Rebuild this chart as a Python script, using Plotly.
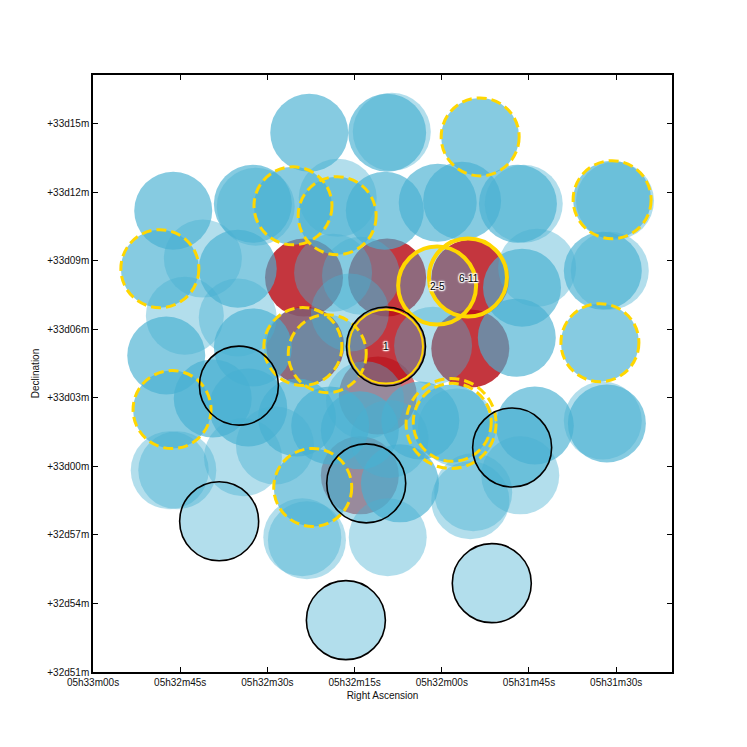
import plotly.graph_objects as go

# RA: seconds of time after 05h30m00s ; Dec: arcmin relative to +33d00m
blue_ra = [142.8, 129.4, 128.6, 113.4, 166.2, 152.5, 152.0, 145.6, 137.9, 138.0,
           129.8, 120.7, 116.5, 106.9, 105.9, 90.7, 90.2, 168.5, 161.1, 155.1,
           138.7, 133.9, 120.8, 106.2, 103.6, 92.3, 91.1, 167.4, 164.2, 155.1,
           152.5, 121.5, 107.1, 92.8, 166.4, 154.9, 159.4, 153.3, 144.9, 166.8,
           165.5, 154.2, 158.3, 144.0, 143.2, 142.2, 133.0, 136.5, 129.3, 111.4,
           107.9, 118.4, 117.4, 104.0, 106.5, 115.1, 114.6, 127.2, 92.3, 91.6,
           139.2, 123.7, 135.8, 134.1, 148.7, 129.0, 143.9, 139.7, 133.2]
blue_dec = [14.61, 14.61, 14.65, 14.43, 11.20, 11.50, 11.37, 11.41, 11.76, 10.98,
            11.20, 11.55, 11.63, 11.50, 11.50, 11.68, 11.63, 8.66, 9.10, 8.66,
            8.48, 8.35, 7.92, 7.83, 8.70, 8.57, 8.57, 4.86, 6.60, 6.52,
            5.21, 5.29, 5.64, 5.42, 2.49, 3.54, 2.98, 2.58, 2.14, -0.17,
            -0.17, 0.40, -2.40, -3.10, -3.23, -0.92, -0.74, -6.73, -3.10, -5.11,
            0.83, 1.88, 1.71, 1.79, -0.39, -1.48, -1.13, -0.74, 2.01, 1.88,
            1.79, 2.01, 6.74, 1.58, 0.92, 1.20, 5.25, 4.94, 2.90]
blue_nexp = [2, 2, 1, 2, 2, 2, 1, 2, 1, 2,
             2, 2, 2, 2, 1, 2, 1, 2, 1, 2,
             1, 1, 1, 2, 1, 2, 1, 2, 1, 1,
             2, 1, 2, 2, 2, 2, 2, 2, 2, 1,
             1, 1, 1, 1, 1, 2, 1, 1, 1, 1,
             2, 2, 1, 2, 1, 1, 1, 2, 1, 2,
             2, 2, 1, 2, 1, 1, 1, 1, 1]

red_ra = [143.7, 129.4, 115.1, 115.1, 129.6, 143.5, 131.0, 134.1]
red_dec = [8.27, 8.27, 8.22, 5.16, 5.25, 5.29, 3.11, -0.39]
red_nexp = [2, 2, 2, 2, 2, 2, 1, 1]

dashed_ra = [113.4, 145.6, 138.0, 90.7, 168.5, 143.9, 139.7, 92.8, 166.4, 142.2, 118.2]
dashed_dec = [14.43, 11.41, 10.98, 11.68, 8.66, 5.25, 4.94, 5.42, 2.49, -0.92, 1.93]
dashed_wide_ra = [118.4]
dashed_wide_dec = [1.88]

black_ra = [154.9, 158.3, 133.0, 136.5, 111.4, 107.9, 129.6]
black_dec = [3.54, -2.40, -0.74, -6.73, -5.11, 0.83, 5.25]

solid_ra = [120.8, 115.5]
solid_dec = [7.92, 8.27]
inner_ra = [129.6]
inner_dec = [5.25]

label_text = ["1", "2-5", "6-11"]
label_ra = [129.6, 120.8, 115.3]
label_dec = [5.25, 7.88, 8.22]

x_tickvals = [180, 165, 150, 135, 120, 105, 90]
x_ticktext = ["05h33m00s", "05h32m45s", "05h32m30s", "05h32m15s",
              "05h32m00s", "05h31m45s", "05h31m30s"]
y_tickvals = [15, 12, 9, 6, 3, 0, -3, -6, -9]
y_ticktext = ["+33d15m", "+33d12m", "+33d09m", "+33d06m", "+33d03m",
              "+33d00m", "+32d57m", "+32d54m", "+32d51m"]

# ---- layout geometry (page body adds an 8px offset) ----
W, H = 747, 747
ML, MR, MT, MB = 85, 83, 67, 83
XR = [180, 80.4]
YR = [-9, 17.14]
PX_X = (W - ML - MR) / abs(XR[0] - XR[1])
PX_Y = (H - MT - MB) / (YR[1] - YR[0])
R = 39  # footprint radius in px

BLUE = (72, 176, 210)
RED = (185, 15, 25)


def op(n, a):
    return 1 - (1 - a) ** n


fig = go.Figure()
fig.add_trace(go.Scatter(
    x=red_ra, y=red_dec, mode="markers", hoverinfo="skip",
    marker=dict(size=2 * R, color="rgb(%d,%d,%d)" % RED,
                opacity=[op(n, 0.6) for n in red_nexp], line=dict(width=0)),
    showlegend=False))
fig.add_trace(go.Scatter(
    x=blue_ra, y=blue_dec, mode="markers", hoverinfo="skip",
    marker=dict(size=2 * R, color="rgb(%d,%d,%d)" % BLUE,
                opacity=[op(n, 0.42) for n in blue_nexp], line=dict(width=0)),
    showlegend=False))


def circ(ra, dec, r, color, width, dash="solid"):
    rx = r / PX_X
    ry = r / PX_Y
    return dict(type="circle", xref="x", yref="y", layer="above",
                x0=ra - rx, x1=ra + rx, y0=dec - ry, y1=dec + ry,
                line=dict(color=color, width=width, dash=dash),
                fillcolor="rgba(0,0,0,0)")


shapes = []
GOLD = "#ffd700"
for a, d in zip(dashed_ra, dashed_dec):
    shapes.append(circ(a, d, R, GOLD, 3, "10px,5px"))
for a, d in zip(dashed_wide_ra, dashed_wide_dec):
    shapes.append(circ(a, d, R + 6, GOLD, 3, "10px,5px"))
for a, d in zip(solid_ra, solid_dec):
    shapes.append(circ(a, d, R, GOLD, 4))
for a, d in zip(black_ra, black_dec):
    shapes.append(circ(a, d, R + 0.5, "black", 1.6))
for a, d in zip(inner_ra, inner_dec):
    shapes.append(circ(a, d, R - 2, GOLD, 2))

annotations = []
halo = ("1px 1px 1px white, -1px -1px 1px white, 1px -1px 1px white, "
        "-1px 1px 1px white, 0 0 3px white, 0 0 3px white")
for t, a, d in zip(label_text, label_ra, label_dec):
    annotations.append(dict(x=a, y=d, xref="x", yref="y", text=t, showarrow=False,
                            font=dict(size=10, color="black", family="Liberation Sans",
                                      shadow=halo)))

FONT = dict(family="Liberation Sans, Arial, sans-serif", size=10, color="#111")
fig.update_layout(
    width=W, height=H, margin=dict(l=ML, r=MR, t=MT, b=MB, autoexpand=False),
    paper_bgcolor="white", plot_bgcolor="white", font=FONT,
    shapes=shapes, annotations=annotations,
    xaxis=dict(range=XR, tickvals=x_tickvals, ticktext=x_ticktext, ticks="inside",
               ticklen=5, tickcolor="black", mirror="ticks", showline=True,
               linecolor="black", linewidth=1.5, showgrid=False, zeroline=False,
               title=dict(text="Right Ascension", standoff=5, font=FONT)),
    yaxis=dict(range=YR, tickvals=y_tickvals, ticktext=y_ticktext, ticks="inside",
               ticklen=5, tickcolor="black", mirror="ticks", showline=True,
               linecolor="black", linewidth=1.5, showgrid=False, zeroline=False,
               title=dict(text="Declination", standoff=6, font=FONT)),
)
fig.write_html("out.html")
